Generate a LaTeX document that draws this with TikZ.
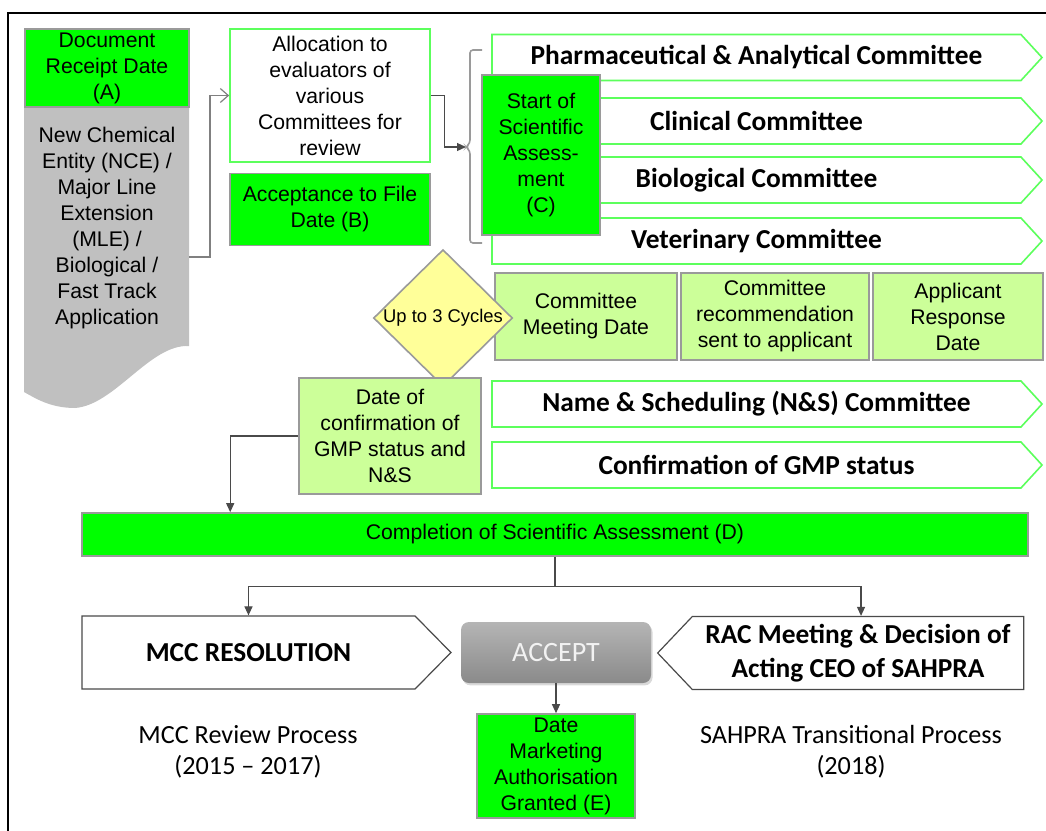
\documentclass[tikz,border=0pt]{standalone}
\usepackage{fontspec}
\setmainfont{Liberation Sans}
\newfontfamily\calibri{Carlito}
\usepackage{tikz}
\usetikzlibrary{arrows.meta,shapes.geometric,shapes.symbols,shadows,calc}

\definecolor{fullgreen}{HTML}{00FF00}
\definecolor{palegreen}{HTML}{CCFF99}
\definecolor{chevgreen}{HTML}{5CFF5C}
\definecolor{paleyellow}{HTML}{FFFF99}
\definecolor{boxgrey}{HTML}{9A9A9A}
\definecolor{docgrey}{HTML}{C0C0C0}
\definecolor{linegrey}{HTML}{4A4A4A}
\definecolor{accepttop}{HTML}{B5B5B5}
\definecolor{acceptbot}{HTML}{8A8A8A}

\newcommand\arialtext{\fontsize{10.6}{13}\selectfont}
\newcommand\comfont{\calibri\bfseries\fontsize{13.7}{17}\selectfont}
\newcommand\notefont{\calibri\fontsize{13.1}{15.5}\selectfont}

\begin{document}
\begin{tikzpicture}[x=0.5pt,y=-0.5pt,
    >={Triangle[length=4.5pt,width=4pt]},
    conn/.style={draw=linegrey,line width=0.6pt},
    gbox/.style={rectangle,draw=boxgrey,line width=0.8pt,fill=fullgreen,
      inner sep=0pt,align=center,font=\arialtext},
    lbox/.style={gbox,fill=palegreen},
    wbox/.style={gbox,draw=chevgreen,fill=white},
    cyc/.style={diamond,draw=boxgrey,line width=0.8pt,fill=paleyellow,
      inner sep=0pt,font=\fontsize{9.2}{11}\selectfont},
    chev/.style={signal,signal to=east,signal pointer angle=95,
      draw=chevgreen,line width=0.8pt,fill=white,inner sep=0pt,
      minimum width=275pt,minimum height=23pt,font=\comfont},
    bigchev/.style={signal,draw=linegrey,line width=0.6pt,fill=white,
      inner sep=0pt,minimum height=36.5pt,align=center,font=\comfont},
    accept/.style={rectangle,rounded corners=4pt,top color=accepttop,
      bottom color=acceptbot,draw=none,inner sep=0pt,
      drop shadow={opacity=0.3,shadow xshift=0.8pt,shadow yshift=-1.2pt},
      text=white!95!black,font=\calibri\fontsize{14}{16}\selectfont},
    note/.style={align=center,font=\notefont}]
  \useasboundingbox (0,0) rectangle (1046,831);
  \draw[line width=0.8pt] (1046,13) -- (8,13) -- (8,831);

  % left column
  \fill[docgrey] (24,107) -- (189,107) -- (189,346)
    .. controls (150,344) and (115,405) .. (75,408)
    .. controls (50,408) and (35,398) .. (24,392) -- cycle;
  \node[align=center,font=\arialtext] (app) at (107,228)
    {New Chemical\\Entity (NCE) /\\Major Line\\Extension\\(MLE) /\\Biological /\\Fast Track\\Application};
  \coordinate (appout) at (189,257);
  \node[gbox,minimum width=82pt,minimum height=39pt] (recA) at (107,68)
    {Document\\Receipt Date\\(A)};

  \node[wbox,minimum width=100pt,minimum height=66.5pt] (alloc) at (330,95.5)
    {Allocation to\\evaluators of\\various\\Committees for\\review};
  \node[gbox,minimum width=100pt,minimum height=36pt] (accB) at (330,209.5)
    {Acceptance to File\\Date (B)};

  % committees
  \node[chev] (pharma) at (756.5,57.5) {Pharmaceutical \& Analytical Committee};
  \node[chev] (clin) at (756.5,121) {Clinical Committee};
  \node[chev] (bio) at (756.5,180) {Biological Committee};
  \node[chev] (vet) at (756.5,241) {Veterinary Committee};
  \node[gbox,minimum width=59pt,minimum height=80pt] (startC) at (541,155)
    {Start of\\Scientific\\Assess-\\ment\\(C)};
  \draw[draw=boxgrey,line width=0.8pt,rounded corners=1.5pt]
    (482,50) -- (470,50) -- (470,143) -- (466,147) -- (470,151) -- (470,243) -- (482,243);
  \coordinate (brk) at (466,147);

  % review cycle
  \node[lbox,minimum width=91pt,minimum height=43.5pt] (meet) at (586,316.5)
    {Committee\\Meeting Date};
  \node[lbox,minimum width=94pt,minimum height=43.5pt] (recom) at (775,316.5)
    {Committee\\recommendation\\sent to applicant};
  \node[lbox,minimum width=85pt,minimum height=43.5pt] (resp) at (958,316.5)
    {Applicant\\Response\\Date};
  \node[cyc,minimum width=69.5pt,minimum height=62.5pt] (cycles) at (443,318)
    {Up to 3 Cycles};

  \node[lbox,minimum width=91pt,minimum height=58pt] (conf) at (390,436)
    {Date of\\confirmation of\\GMP status and\\N\&S};
  \node[chev] (names) at (756.5,404) {Name \& Scheduling (N\&S) Committee};
  \node[chev] (gmp) at (756.5,465) {Confirmation of GMP status};

  \node[gbox,minimum width=473pt,minimum height=21.5pt] (comp) at (555,534.5)
    {Completion of Scientific Assessment (D)};

  % outcome
  \node[bigchev,signal to=east,signal pointer angle=91,minimum width=184.5pt]
    (mcc) at (248.5,652.5) {MCC RESOLUTION};
  \node[bigchev,signal to=west,signal pointer angle=93,minimum width=183pt]
    (rac) at (858,653) {RAC Meeting \& Decision of\\Acting CEO of SAHPRA};
  \node[accept,minimum width=95pt,minimum height=30.5pt] (accept) at (556,652.5) {ACCEPT};
  \node[gbox,minimum width=79pt,minimum height=52pt] (dateE) at (556,766)
    {Date\\Marketing\\Authorisation\\Granted (E)};
  \node[note] (mccnote) at (248,752) {MCC Review Process\\(2015 – 2017)};
  \node[note] (sahnote) at (851,752) {SAHPRA Transitional Process\\(2018)};

  % connectors
  \draw[conn,draw=gray,-{Straight Barb[length=4pt,width=7pt]}]
    (appout) -- ++(10.5pt,0) |- (alloc.west);
  \draw[conn,->] (alloc.east) -- ++(7pt,0) |- (brk);
  \draw[conn,->] (conf.west) -| ($(comp.north west)+(74.5pt,0)$);
  \draw[conn] (comp.south) -- ++(0,30) coordinate (split);
  \draw[conn,->] (split) -| (mcc.90);
  \draw[conn,->] (split) -| ([xshift=1.5pt]rac.90);
  \draw[conn,->] (accept) -- (dateE);
\end{tikzpicture}
\end{document}
